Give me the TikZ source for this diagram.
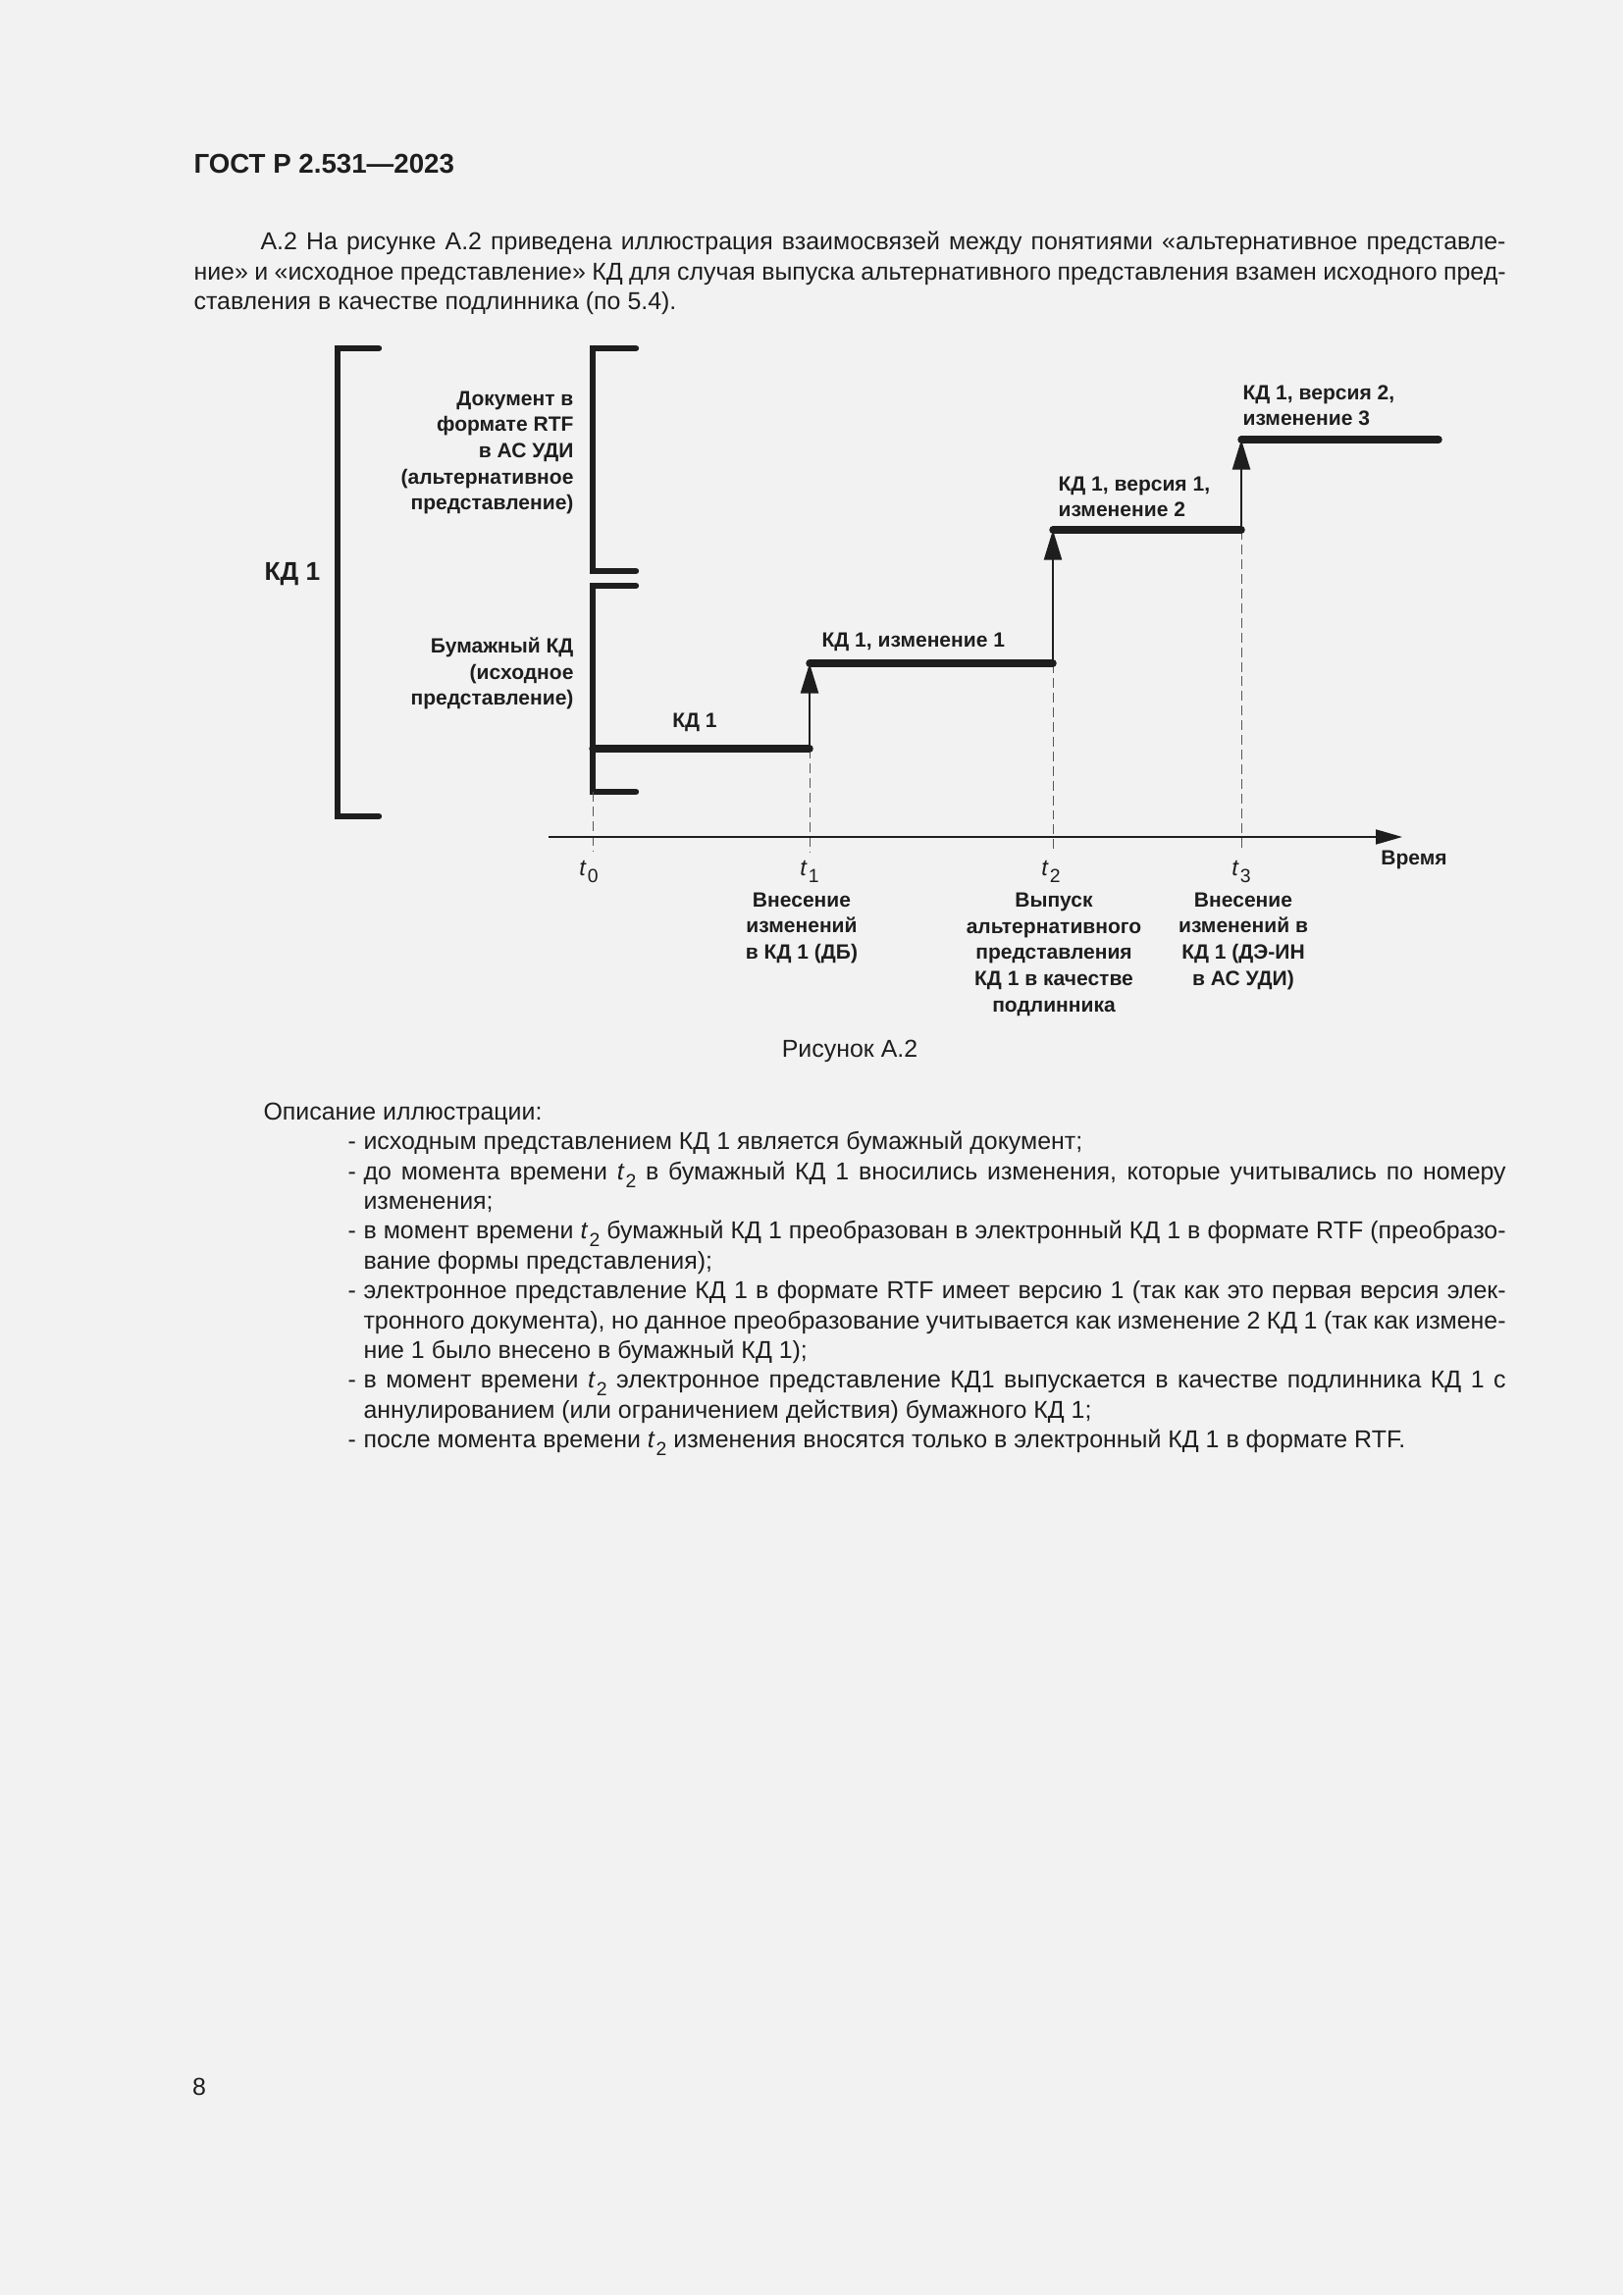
\documentclass[tikz,border=0pt]{standalone}
\usepackage{fontspec}
\setmainfont{Liberation Sans}
\usetikzlibrary{arrows.meta,positioning}
\definecolor{paper}{HTML}{F2F2F2}
\definecolor{ink}{HTML}{1E1E1E}
\newcommand{\tsub}[1]{\textit{t}\kern0.04em\raisebox{-0.32em}{\fontsize{7}{8}\selectfont #1}}
\tikzset{brk/.style={line width=2.3pt,draw=ink,line cap=round,line join=miter},
  lvl/.style={line width=2.7pt,draw=ink,line cap=round},
  jump/.style={line width=0.8pt,draw=ink,-{Triangle[length=3.9mm,width=2.3mm]}},
  guide/.style={draw=ink!75,line width=0.35pt,dash pattern=on 3.6pt off 1.8pt},
  axis/.style={line width=0.6pt,draw=ink,-{Triangle[length=3.4mm,width=1.9mm]}},
  lbl/.style={font=\bfseries\fontsize{7.6}{9.65}\selectfont,text=ink,inner sep=0pt,anchor=base},
  tlab/.style={font=\fontsize{8.5}{10}\selectfont,text=ink,inner sep=0pt,anchor=base},
  body/.style={font=\fontsize{9}{10.94}\selectfont,text=ink,inner sep=0pt,anchor=base west},
  head/.style={font=\bfseries\fontsize{10}{12}\selectfont,text=ink,inner sep=0pt,anchor=base west}}

\begin{document}
\begin{tikzpicture}[x=0.12696mm,y=-0.12696mm]
\useasboundingbox[fill=paper] (0,0) rectangle (1654,2339);
% page text above the figure
\node[head] (hd) at (197,177) {ГОСТ Р 2.531—2023};
\node[body] (p1) at (265,255) {\makebox[161.1mm][s]{А.2 На рисунке А.2 приведена иллюстрация взаимосвязей между понятиями «альтернативное представле-}};
\node[body] (p2) at (197,285.5) {\makebox[169.75mm][s]{ние» и «исходное представление» КД для случая выпуска альтернативного представления взамен исходного пред-}};
\node[body] (p3) at (197,315.5) {ставления в качестве подлинника (по 5.4).};
% brackets
\draw[brk] (386,355)--(344,355)--(344,832)--(386,832);
\draw[brk] (648,355)--(604,355)--(604,582)--(648,582);
\draw[brk] (648,597)--(604,597)--(604,807)--(648,807);
\node[lbl,font=\bfseries\fontsize{9.5}{11}\selectfont] (kd) at (298,592) {КД 1};
% multi-line labels sit on the baseline of their last line
\node[lbl,align=right,anchor=base east] (alt) at (585,520) {Документ в\\формате RTF\\в АС УДИ\\(альтернативное\\представление)};
\node[lbl,align=right,anchor=base east] (src) at (585,719) {Бумажный КД\\(исходное\\представление)};
% steps
\coordinate (a0) at (604,763);
\coordinate (a1) at (825,763);
\coordinate (b1) at (825,676);
\coordinate (b2) at (1073,676);
\coordinate (c2) at (1073,540);
\coordinate (c3) at (1265,540);
\coordinate (d3) at (1265,448);
\coordinate (d4) at (1466,448);
\coordinate (lb) at (604,807);
\coordinate (gb) at (0,868);
\draw[guide] (lb)--(lb|-gb) (a1)--(a1|-gb) (b2)--(b2|-gb) (c3)--(c3|-gb);
\draw[lvl] (a0)--(a1) (b1)--(b2) (c2)--(c3) (d3)--(d4);
\draw[jump] (a1)--(b1);
\draw[jump] (b2)--(c2);
\draw[jump] (c3)--(d3);
\node[lbl] (v0) at (708,742) {КД 1};
\node[lbl,anchor=base west] (v1) at (837,660) {КД 1, изменение 1};
\node[lbl,anchor=base west,align=left] (v2) at (1078,527) {КД 1, версия 1,\\изменение 2};
\node[lbl,anchor=base west,align=left] (v3) at (1266,434) {КД 1, версия 2,\\изменение 3};
% time axis
\coordinate (ax0) at (559,853);
\coordinate (ax1) at (1429,853);
\draw[axis] (ax0)--(ax1);
\node[lbl] (tm) at (1441,881) {Время};
\node[tlab] (t0) at (600,892) {\tsub{0}};
\node[tlab] (t1) at (825,892) {\tsub{1}};
\node[tlab] (t2) at (1071,892) {\tsub{2}};
\node[tlab] (t3) at (1265,892) {\tsub{3}};
\node[lbl,align=center] (e1) at (817,977.6) {Внесение\\изменений\\в КД 1 (ДБ)};
\node[lbl,align=center] (e2) at (1074,1031.2) {Выпуск\\альтернативного\\представления\\КД 1 в качестве\\подлинника};
\node[lbl,align=center] (e3) at (1267,1004.4) {Внесение\\изменений в\\КД 1 (ДЭ-ИН\\в АС УДИ)};
\node[body,anchor=base] (cap) at (866,1077) {Рисунок А.2};
% description
\node[body] (d0) at (268,1141.5) {Описание иллюстрации:};
\node[body] (m1) at (354,1171.9) {-};
\node[body] (i1) at (370,1171.9) {исходным представлением КД 1 является бумажный документ;};
\node[body] (m2) at (354,1202.2) {-};
\node[body] (i2) at (370,1202.2) {\makebox[147.78mm][s]{до момента времени \tsub{2} в бумажный КД 1 вносились изменения, которые учитывались по номеру}};
\node[body] (i3) at (370,1232.6) {изменения;};
\node[body] (m4) at (354,1262.9) {-};
\node[body] (i4) at (370,1262.9) {\makebox[147.78mm][s]{в момент времени \tsub{2} бумажный КД 1 преобразован в электронный КД 1 в формате RTF (преобразо-}};
\node[body] (i5) at (370,1293.3) {вание формы представления);};
\node[body] (m6) at (354,1323.6) {-};
\node[body] (i6) at (370,1323.6) {\makebox[147.78mm][s]{электронное представление КД 1 в формате RTF имеет версию 1 (так как это первая версия элек-}};
\node[body] (i7) at (370,1354) {\makebox[147.78mm][s]{тронного документа), но данное преобразование учитывается как изменение 2 КД 1 (так как измене-}};
\node[body] (i8) at (370,1384.3) {ние 1 было внесено в бумажный КД 1);};
\node[body] (m9) at (354,1414.7) {-};
\node[body] (i9) at (370,1414.7) {\makebox[147.78mm][s]{в момент времени \tsub{2} электронное представление КД1 выпускается в качестве подлинника КД 1 с}};
\node[body] (i10) at (370,1445) {аннулированием (или ограничением действия) бумажного КД 1;};
\node[body] (m11) at (354,1475.4) {-};
\node[body] (i11) at (370,1475.4) {после момента времени \tsub{2} изменения вносятся только в электронный КД 1 в формате RTF.};
\node[body,anchor=center] (pg) at (203,2127) {8};
\end{tikzpicture}
\end{document}
